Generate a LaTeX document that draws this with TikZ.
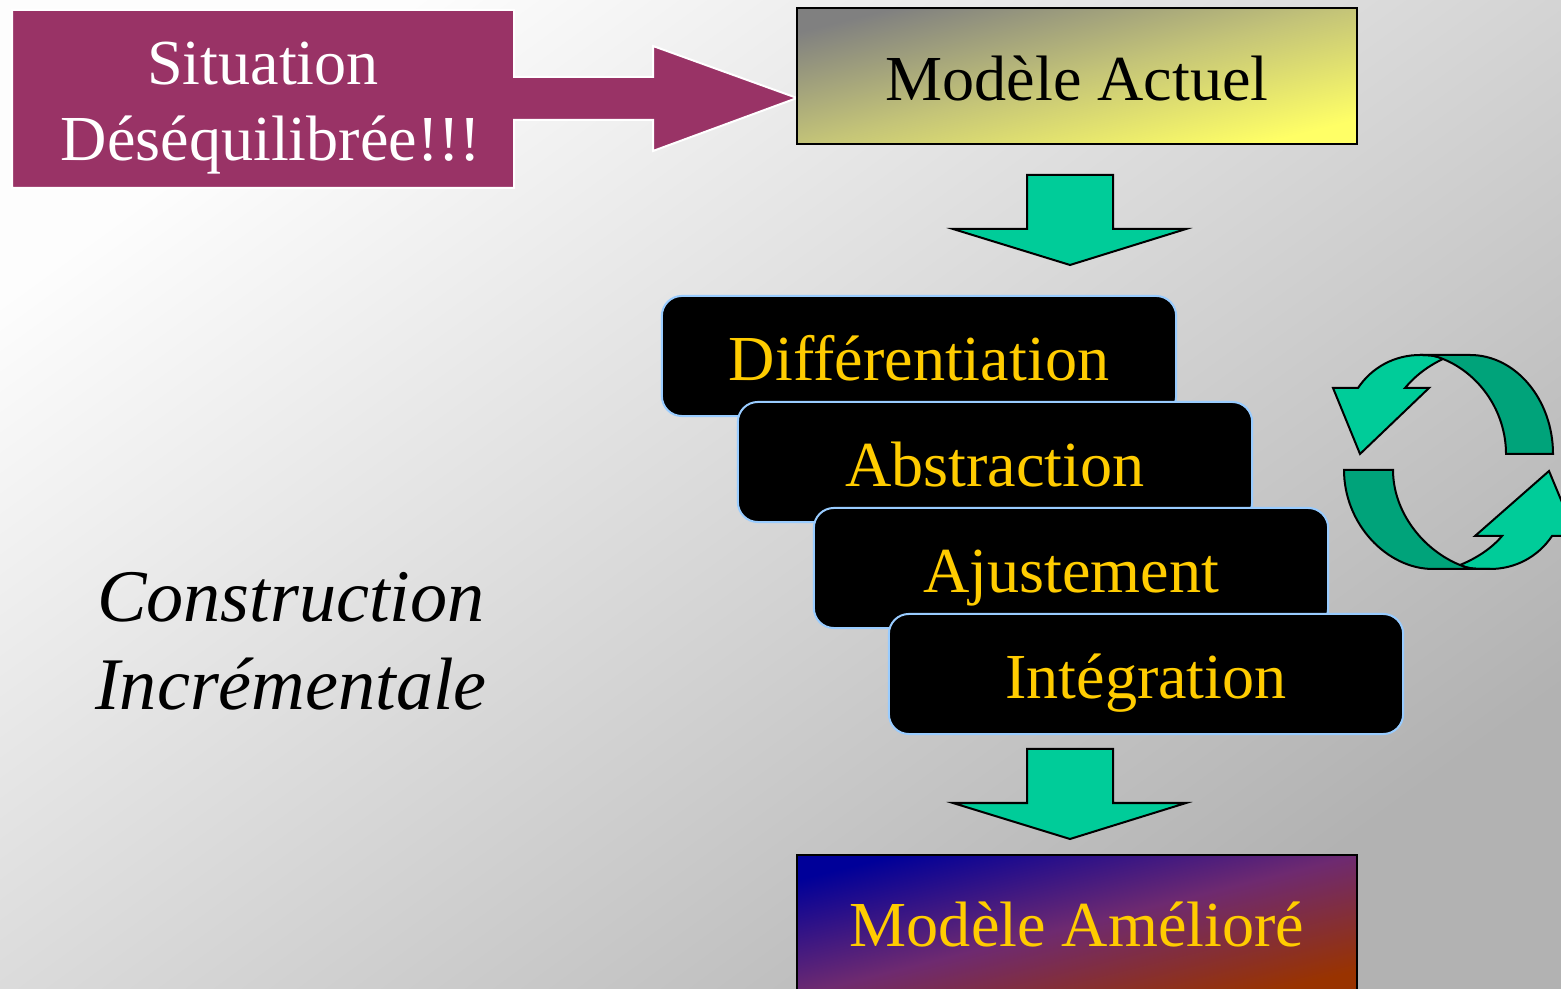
\documentclass[tikz,border=0pt]{standalone}
\usepackage{fontspec}
\setmainfont{Liberation Serif}
\tikzstyle{situ}=[inner sep=0,align=center,text=white,font=\fontsize{18.25}{21.6}\selectfont]
\tikzstyle{modele}=[draw=black,line width=0.025cm,minimum width=5.6cm,inner sep=0,font=\fontsize{18.25}{21.6}\selectfont]
\tikzstyle{etape}=[fill=black,draw=etapeline,line width=0.02cm,rounded corners=0.2cm,minimum width=5.14cm,minimum height=1.2cm,inner sep=0,text height=0.6cm,text depth=0.12cm,text=etapetext,font=\fontsize{18.25}{21.6}\selectfont]
\tikzstyle{fleche}=[fill=flechecol,draw=black,line width=0.02cm,line join=miter]
\tikzstyle{sombre}=[fill=sombrecol,draw=black,line width=0.02cm]
\tikzstyle{titre}=[inner sep=0,align=center,font=\fontsize{21.1}{25}\selectfont\itshape]
\definecolor{situcol}{HTML}{993366}
\definecolor{etapeline}{HTML}{99CCFF}
\definecolor{etapetext}{HTML}{FFCC00}
\definecolor{flechecol}{HTML}{00CC99}
\definecolor{sombrecol}{HTML}{00A37A}
\definecolor{gristop}{HTML}{808080}
\definecolor{grismid}{HTML}{C4C478}
\definecolor{jaune}{HTML}{FFFF66}
\definecolor{bleu}{HTML}{000099}
\definecolor{violet}{HTML}{6E2A70}
\definecolor{brun}{HTML}{993300}
\definecolor{fondhaut}{HTML}{FDFDFD}
\definecolor{fondbas}{HTML}{B2B2B2}
\begin{document}
\begin{tikzpicture}[x=0.01cm,y=-0.01cm]
	\clip[use as bounding box] (0,0) rectangle (1561,989);
	\shade[top color=fondhaut,bottom color=fondbas,shading angle=36] (0,0) rectangle (1561,989);

	\draw[fill=situcol,draw=white,line width=0.02cm,line join=miter] (12,10) -- (514,10) -- (514,77) -- (653,77) -- (653,46) -- (797,98) -- (653,151) -- (653,120) -- (514,120) -- (514,188) -- (12,188) -- cycle;
	\node[situ] (situation) at (271,108) {Situation\hspace*{0.16cm}\\Déséquilibrée!!!};

	\node[modele,minimum height=1.36cm,text height=0.6cm,text depth=0.12cm,top color=gristop,bottom color=jaune,middle color=grismid,shading angle=14] (actuel) at (1077,76) {Modèle Actuel};

	\draw[fleche] (1027,175) -- (1113,175) -- (1113,229) -- (1186,229) -- (1070,265) -- (953,229) -- (1027,229) -- cycle;

	\node[etape] (diff) at (919,356) {Différentiation};
	\node[etape] (abs) at (995,462) {Abstraction};
	\node[etape] (aju) at (1071,568) {Ajustement};
	\node[etape] (int) at (1146,674) {Intégration};

	\draw[fleche] (1027,749) -- (1113,749) -- (1113,803) -- (1186,803) -- (1070,839) -- (953,803) -- (1027,803) -- cycle;

	\node[modele,minimum height=1.4cm,text height=0.57cm,text depth=0.15cm,text=etapetext,top color=bleu,bottom color=brun,middle color=violet,shading angle=14] (ameliore) at (1077,925) {Modèle Amélioré};

	\node[titre] (construction) at (291,641) {Construction\\Incrémentale};

	\draw[fleche] (1443,359) .. controls (1434,355) and (1428,355) .. (1420,355) .. controls (1395,355) and (1372,367) .. (1358,388) -- (1333,388) -- (1360,454) -- (1429,388) -- (1405,388) .. controls (1415,376) and (1428,366) .. (1443,359) -- cycle;
	\draw[sombre] (1506,454) -- (1553,454) .. controls (1553,400) and (1516,355) .. (1470,355) -- (1420,355) .. controls (1428,355) and (1434,355) .. (1443,359) .. controls (1480,374) and (1506,412) .. (1506,454) -- cycle;

	\draw[fleche] (1460,565) .. controls (1469,569) and (1475,569) .. (1490,569) .. controls (1515,569) and (1538,557) .. (1552,536) -- (1576,536) -- (1549,471) -- (1475,536) -- (1502,536) .. controls (1492,548) and (1477,558) .. (1460,565) -- cycle;
	\draw[sombre] (1393,470) -- (1344,470) .. controls (1344,524) and (1387,569) .. (1433,569) -- (1490,569) .. controls (1475,569) and (1469,569) .. (1460,565) .. controls (1423,550) and (1393,512) .. (1393,470) -- cycle;
\end{tikzpicture}
\end{document}
